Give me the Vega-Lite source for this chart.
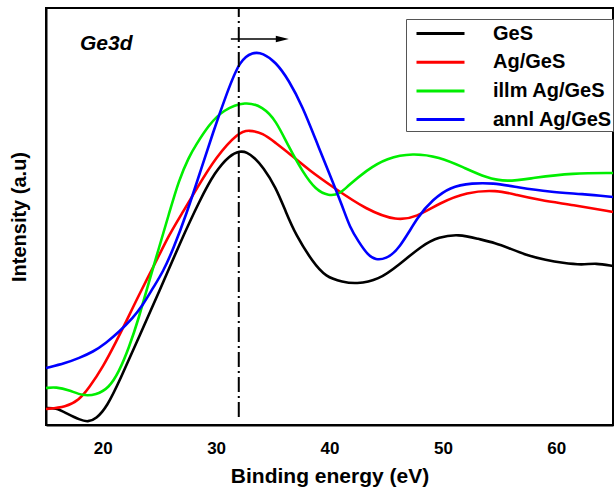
{
  "$schema": "https://vega.github.io/schema/vega-lite/v6.json",
  "width": 567,
  "height": 417,
  "autosize": {"type": "none"},
  "padding": {"left": 46, "top": 8, "right": 1, "bottom": 65},
  "background": "white",
  "config": {"view": {"stroke": "black", "strokeWidth": 2}, "font": "Liberation Sans"},
  "datasets": {
    "curves": [
      {"s": "GeS", "x": 15.00, "y": 17}, {"s": "GeS", "x": 15.88, "y": 17}, {"s": "GeS", "x": 16.76, "y": 12}, {"s": "GeS", "x": 18.00, "y": 5}, {"s": "GeS", "x": 18.70, "y": 3}, {"s": "GeS", "x": 19.41, "y": 6}, {"s": "GeS", "x": 20.37, "y": 18}, {"s": "GeS", "x": 21.52, "y": 45}, {"s": "GeS", "x": 23.28, "y": 90}, {"s": "GeS", "x": 25.04, "y": 135}, {"s": "GeS", "x": 26.81, "y": 182}, {"s": "GeS", "x": 28.57, "y": 225}, {"s": "GeS", "x": 29.89, "y": 253}, {"s": "GeS", "x": 31.21, "y": 270}, {"s": "GeS", "x": 32.09, "y": 274}, {"s": "GeS", "x": 32.71, "y": 273}, {"s": "GeS", "x": 33.41, "y": 267}, {"s": "GeS", "x": 34.12, "y": 258}, {"s": "GeS", "x": 35.26, "y": 238}, {"s": "GeS", "x": 36.15, "y": 213}, {"s": "GeS", "x": 37.03, "y": 190}, {"s": "GeS", "x": 38.52, "y": 163}, {"s": "GeS", "x": 39.67, "y": 148}, {"s": "GeS", "x": 41.17, "y": 143}, {"s": "GeS", "x": 42.31, "y": 141}, {"s": "GeS", "x": 44.34, "y": 145}, {"s": "GeS", "x": 46.10, "y": 160}, {"s": "GeS", "x": 48.22, "y": 180}, {"s": "GeS", "x": 49.63, "y": 188}, {"s": "GeS", "x": 51.39, "y": 191}, {"s": "GeS", "x": 53.15, "y": 186}, {"s": "GeS", "x": 54.65, "y": 182}, {"s": "GeS", "x": 55.79, "y": 177}, {"s": "GeS", "x": 57.56, "y": 169}, {"s": "GeS", "x": 59.05, "y": 165}, {"s": "GeS", "x": 60.55, "y": 162}, {"s": "GeS", "x": 62.31, "y": 160}, {"s": "GeS", "x": 63.46, "y": 162}, {"s": "GeS", "x": 65.00, "y": 159},
      {"s": "Ag/GeS", "x": 15.00, "y": 16}, {"s": "Ag/GeS", "x": 16.76, "y": 18}, {"s": "Ag/GeS", "x": 17.91, "y": 25}, {"s": "Ag/GeS", "x": 18.79, "y": 37}, {"s": "Ag/GeS", "x": 20.02, "y": 58}, {"s": "Ag/GeS", "x": 21.17, "y": 83}, {"s": "Ag/GeS", "x": 22.05, "y": 103}, {"s": "Ag/GeS", "x": 23.19, "y": 130}, {"s": "Ag/GeS", "x": 24.69, "y": 163}, {"s": "Ag/GeS", "x": 25.84, "y": 190}, {"s": "Ag/GeS", "x": 27.07, "y": 213}, {"s": "Ag/GeS", "x": 28.22, "y": 235}, {"s": "Ag/GeS", "x": 29.98, "y": 268}, {"s": "Ag/GeS", "x": 32.00, "y": 293}, {"s": "Ag/GeS", "x": 32.89, "y": 295}, {"s": "Ag/GeS", "x": 34.12, "y": 292}, {"s": "Ag/GeS", "x": 35.26, "y": 282}, {"s": "Ag/GeS", "x": 36.41, "y": 272}, {"s": "Ag/GeS", "x": 38.17, "y": 255}, {"s": "Ag/GeS", "x": 40.29, "y": 238}, {"s": "Ag/GeS", "x": 43.28, "y": 215}, {"s": "Ag/GeS", "x": 45.93, "y": 204}, {"s": "Ag/GeS", "x": 47.69, "y": 208}, {"s": "Ag/GeS", "x": 49.71, "y": 222}, {"s": "Ag/GeS", "x": 52.09, "y": 233}, {"s": "Ag/GeS", "x": 54.74, "y": 235}, {"s": "Ag/GeS", "x": 56.50, "y": 230}, {"s": "Ag/GeS", "x": 58.52, "y": 225}, {"s": "Ag/GeS", "x": 61.43, "y": 220}, {"s": "Ag/GeS", "x": 65.00, "y": 213},
      {"s": "illm Ag/GeS", "x": 15.00, "y": 37}, {"s": "illm Ag/GeS", "x": 15.88, "y": 38}, {"s": "illm Ag/GeS", "x": 17.03, "y": 35}, {"s": "illm Ag/GeS", "x": 18.26, "y": 29}, {"s": "illm Ag/GeS", "x": 19.41, "y": 30}, {"s": "illm Ag/GeS", "x": 20.55, "y": 37}, {"s": "illm Ag/GeS", "x": 21.43, "y": 53}, {"s": "illm Ag/GeS", "x": 22.31, "y": 77}, {"s": "illm Ag/GeS", "x": 23.19, "y": 107}, {"s": "illm Ag/GeS", "x": 24.07, "y": 143}, {"s": "illm Ag/GeS", "x": 24.96, "y": 177}, {"s": "illm Ag/GeS", "x": 25.84, "y": 211}, {"s": "illm Ag/GeS", "x": 26.72, "y": 245}, {"s": "illm Ag/GeS", "x": 27.60, "y": 268}, {"s": "illm Ag/GeS", "x": 28.22, "y": 280}, {"s": "illm Ag/GeS", "x": 29.36, "y": 300}, {"s": "illm Ag/GeS", "x": 30.59, "y": 315}, {"s": "illm Ag/GeS", "x": 32.62, "y": 324}, {"s": "illm Ag/GeS", "x": 34.12, "y": 318}, {"s": "illm Ag/GeS", "x": 35.26, "y": 305}, {"s": "illm Ag/GeS", "x": 36.41, "y": 278}, {"s": "illm Ag/GeS", "x": 37.64, "y": 253}, {"s": "illm Ag/GeS", "x": 38.79, "y": 235}, {"s": "illm Ag/GeS", "x": 39.93, "y": 229}, {"s": "illm Ag/GeS", "x": 40.90, "y": 231}, {"s": "illm Ag/GeS", "x": 41.52, "y": 238}, {"s": "illm Ag/GeS", "x": 43.28, "y": 255}, {"s": "illm Ag/GeS", "x": 45.04, "y": 267}, {"s": "illm Ag/GeS", "x": 47.33, "y": 272}, {"s": "illm Ag/GeS", "x": 49.71, "y": 268}, {"s": "illm Ag/GeS", "x": 51.74, "y": 258}, {"s": "illm Ag/GeS", "x": 53.85, "y": 247}, {"s": "illm Ag/GeS", "x": 55.62, "y": 243}, {"s": "illm Ag/GeS", "x": 57.91, "y": 247}, {"s": "illm Ag/GeS", "x": 61.43, "y": 252}, {"s": "illm Ag/GeS", "x": 65.00, "y": 252},
      {"s": "annl Ag/GeS", "x": 15.00, "y": 57}, {"s": "annl Ag/GeS", "x": 16.76, "y": 62}, {"s": "annl Ag/GeS", "x": 17.91, "y": 67}, {"s": "annl Ag/GeS", "x": 19.14, "y": 73}, {"s": "annl Ag/GeS", "x": 20.29, "y": 82}, {"s": "annl Ag/GeS", "x": 21.43, "y": 93}, {"s": "annl Ag/GeS", "x": 22.67, "y": 107}, {"s": "annl Ag/GeS", "x": 23.55, "y": 120}, {"s": "annl Ag/GeS", "x": 24.43, "y": 137}, {"s": "annl Ag/GeS", "x": 25.31, "y": 153}, {"s": "annl Ag/GeS", "x": 26.19, "y": 175}, {"s": "annl Ag/GeS", "x": 27.42, "y": 212}, {"s": "annl Ag/GeS", "x": 28.57, "y": 252}, {"s": "annl Ag/GeS", "x": 29.71, "y": 292}, {"s": "annl Ag/GeS", "x": 30.95, "y": 332}, {"s": "annl Ag/GeS", "x": 32.09, "y": 365}, {"s": "annl Ag/GeS", "x": 33.24, "y": 373}, {"s": "annl Ag/GeS", "x": 34.12, "y": 372}, {"s": "annl Ag/GeS", "x": 35.26, "y": 363}, {"s": "annl Ag/GeS", "x": 36.41, "y": 345}, {"s": "annl Ag/GeS", "x": 37.64, "y": 318}, {"s": "annl Ag/GeS", "x": 38.79, "y": 285}, {"s": "annl Ag/GeS", "x": 39.93, "y": 253}, {"s": "annl Ag/GeS", "x": 41.17, "y": 218}, {"s": "annl Ag/GeS", "x": 41.78, "y": 198}, {"s": "annl Ag/GeS", "x": 42.58, "y": 183}, {"s": "annl Ag/GeS", "x": 43.37, "y": 170}, {"s": "annl Ag/GeS", "x": 44.07, "y": 165}, {"s": "annl Ag/GeS", "x": 44.96, "y": 166}, {"s": "annl Ag/GeS", "x": 46.10, "y": 175}, {"s": "annl Ag/GeS", "x": 47.86, "y": 210}, {"s": "annl Ag/GeS", "x": 49.10, "y": 225}, {"s": "annl Ag/GeS", "x": 50.59, "y": 238}, {"s": "annl Ag/GeS", "x": 52.62, "y": 242}, {"s": "annl Ag/GeS", "x": 54.38, "y": 242}, {"s": "annl Ag/GeS", "x": 56.50, "y": 238}, {"s": "annl Ag/GeS", "x": 59.41, "y": 233}, {"s": "annl Ag/GeS", "x": 62.31, "y": 231}, {"s": "annl Ag/GeS", "x": 65.00, "y": 228}
    ],
    "vline": [{"x": 32.0, "y": 8, "y2": 417}],
    "arrow": [{"x": 31.3, "x2": 35.5, "y": 386}],
    "head": [{"x": 35.84, "y": 386}],
    "label": [{"x": 18.0, "y": 375, "t": "Ge3d"}]
  },
  "layer": [
    {
      "data": {"name": "curves"},
      "mark": {"type": "line", "strokeWidth": 2.6, "interpolate": "basis"},
      "encoding": {
        "x": {
          "field": "x", "type": "quantitative", "title": "Binding energy (eV)",
          "scale": {"domain": [15, 65], "nice": false, "zero": false},
          "axis": {
            "values": [20, 30, 40, 50, 60],
            "ticks": false,
            "domainColor": "black", "domainWidth": 2,
            "labelFontSize": 17, "labelFontWeight": "bold", "labelColor": "black", "labelFont": "Liberation Sans",
            "labelPadding": 15, "labelFlush": false,
            "titleFontSize": 21, "titleFontWeight": "bold", "titleColor": "black", "titleFont": "Liberation Sans",
            "titlePadding": 9, "grid": false
          }
        },
        "y": {
          "field": "y", "type": "quantitative", "title": "Intensity (a.u)",
          "scale": {"domain": [0, 417], "nice": false, "zero": false},
          "axis": {
            "ticks": false, "labels": false, "grid": false,
            "domainColor": "black", "domainWidth": 2,
            "titleFontSize": 20, "titleFontWeight": "bold", "titleColor": "black", "titleFont": "Liberation Sans",
            "titlePadding": 17
          }
        },
        "color": {
          "field": "s", "type": "nominal",
          "scale": {"domain": ["GeS", "Ag/GeS", "illm Ag/GeS", "annl Ag/GeS"], "range": ["#000000", "#ff0000", "#00ee00", "#0000ff"]},
          "sort": ["GeS", "Ag/GeS", "illm Ag/GeS", "annl Ag/GeS"],
          "legend": {
            "orient": "none", "legendX": 360, "legendY": 11, "title": null,
            "strokeColor": "#555555", "fillColor": "white", "padding": 1,
            "symbolType": "M-2,0H2", "symbolSize": 576, "symbolStrokeWidth": 3, "symbolOffset": 20,
            "labelFontSize": 20, "labelFontWeight": "bold", "labelFont": "Liberation Sans", "labelColor": "black",
            "labelOffset": 39, "rowPadding": 4.7
          }
        }
      }
    },
    {
      "data": {"name": "vline"},
      "mark": {"type": "rule", "color": "black", "strokeWidth": 2, "strokeDash": [15, 4, 2, 4]},
      "encoding": {
        "x": {"field": "x", "type": "quantitative", "title": "Binding energy (eV)"},
        "y": {"field": "y", "type": "quantitative", "title": "Intensity (a.u)"},
        "y2": {"field": "y2"}
      }
    },
    {
      "data": {"name": "arrow"},
      "mark": {"type": "rule", "color": "black", "strokeWidth": 1.5},
      "encoding": {
        "x": {"field": "x", "type": "quantitative", "title": "Binding energy (eV)"},
        "x2": {"field": "x2"},
        "y": {"field": "y", "type": "quantitative", "title": "Intensity (a.u)"}
      }
    },
    {
      "data": {"name": "head"},
      "mark": {"type": "point", "shape": "M-1,-0.5L1,0L-1,0.5Z", "size": 169, "filled": true, "color": "black", "opacity": 1},
      "encoding": {
        "x": {"field": "x", "type": "quantitative", "title": "Binding energy (eV)"},
        "y": {"field": "y", "type": "quantitative", "title": "Intensity (a.u)"}
      }
    },
    {
      "data": {"name": "label"},
      "mark": {"type": "text", "align": "left", "baseline": "alphabetic", "fontSize": 21, "fontWeight": "bold", "fontStyle": "italic", "font": "Liberation Sans", "color": "black"},
      "encoding": {
        "x": {"field": "x", "type": "quantitative", "title": "Binding energy (eV)"},
        "y": {"field": "y", "type": "quantitative", "title": "Intensity (a.u)"},
        "text": {"field": "t"}
      }
    }
  ]
}
